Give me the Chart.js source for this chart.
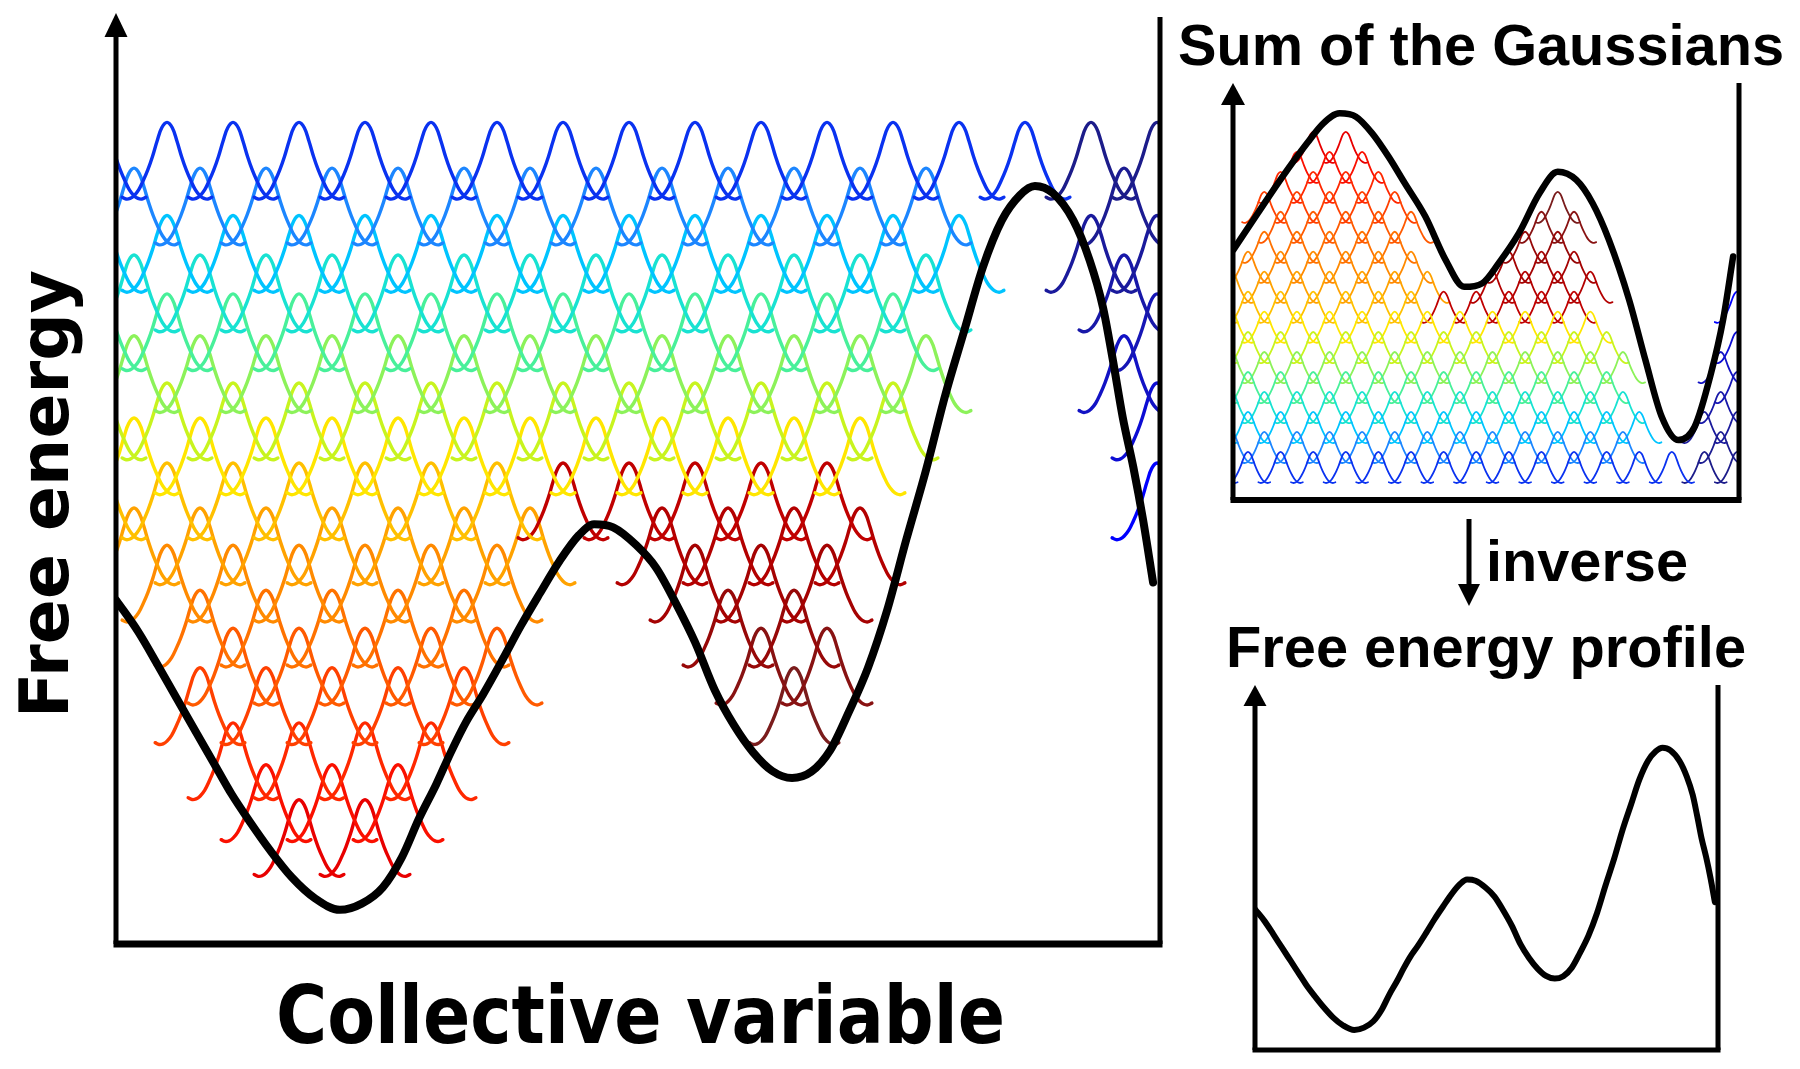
<!DOCTYPE html>
<html><head><meta charset="utf-8">
<script src="https://cdn.jsdelivr.net/npm/chart.js@4.4.1/dist/chart.umd.min.js"></script>
<style>
html,body{margin:0;padding:0;background:#fff;}
#wrap{position:relative;width:1800px;height:1069px;overflow:hidden;background:#fff;}
canvas{position:absolute;left:0;top:0;}
</style></head><body>
<div id="wrap">
<canvas id="cMain" width="1800" height="1069"></canvas>
<canvas id="cSum" width="1800" height="1069"></canvas>
<canvas id="cProfile" width="1800" height="1069"></canvas>
</div>
<script>
// ---------- free-energy profile (collective variable vs free energy) ----------
const cvPoints = [0.23,0.56,0.85,1.15,1.44,1.71,1.98,2.26,2.56,2.89,3.24,3.62,3.95,4.27,4.56,4.82,5.08,5.30,5.53,5.79,6.08,6.36,6.65,6.95,7.24,7.47,7.76,8.11,8.41,8.71,9.00,9.30,9.59,9.88,10.17,10.47,10.76,11.05,11.33,11.62,11.91,12.20,12.50,12.79,13.08,13.36,13.65,13.92,14.15,14.42,14.73,14.98,15.18,15.33,15.48,15.64,15.79,15.94];
const freeEnergy = [4.43,4.03,3.61,3.16,2.73,2.33,1.93,1.57,1.21,0.86,0.59,0.44,0.52,0.73,1.12,1.62,2.06,2.47,2.86,3.22,3.66,4.10,4.52,4.94,5.27,5.41,5.37,5.14,4.85,4.39,3.89,3.27,2.82,2.47,2.23,2.14,2.22,2.50,2.99,3.56,4.30,5.21,6.11,7.07,7.91,8.72,9.33,9.65,9.77,9.68,9.33,8.81,8.21,7.53,6.79,6.15,5.46,4.66];

// ---------- sum of the Gaussians (inset) ----------
const sumCv = [0.55,1.30,2.06,2.81,3.31,3.81,4.31,4.81,5.31,5.81,6.44,7.06,7.63,8.19,8.69,9.31,9.94,10.50,11.07,11.57,12.07,12.69,13.19,13.69,14.20,14.70,15.20,15.57,15.88];
const sumHeight = [6.76,7.75,8.74,9.64,10.18,10.45,10.36,9.91,9.28,8.56,7.66,6.49,5.76,5.86,6.40,7.21,8.29,8.87,8.65,8.02,7.03,5.41,3.78,2.25,1.62,1.98,3.42,4.86,6.58];

// ---------- deposited Gaussians ----------
// shape of one deposited Gaussian as drawn (offset in lattice steps, height fraction, curled tail ends)
const bumpOffset = [-0.68,-0.62,-0.56,-0.50,-0.43,-0.36,-0.29,-0.22,-0.15,-0.08,0,0.08,0.15,0.22,0.29,0.36,0.43,0.50,0.56,0.62,0.68];
const bumpShape  = [0.035,0.012,0.02,0.055,0.13,0.25,0.39,0.56,0.76,0.93,1,0.93,0.76,0.56,0.39,0.25,0.13,0.055,0.02,0.012,0.035];
// peak level of each layer of Gaussians (main panel, free energy units)
const mainLevel = [10.59,10.00,9.39,8.88,8.38,7.84,7.23,6.78,6.20,5.62,5.14,4.56,4.07,3.56,2.85,2.31,1.86];
// peak level of each layer in the "sum of the Gaussians" inset
const sumLevel  = [1.30,1.84,2.38,2.92,3.46,4.00,4.54,5.09,5.63,6.17,6.71,7.25,7.79,8.33,8.87,9.41,9.95];
// height of one Gaussian in each panel
const mainBump = 1.0;
const sumBump = 0.85;
// runs of Gaussians in each layer: layer index, first and last centre (CV), colour group
const segRow   = [0,0, 1,1, 2,2, 3,3, 4,4, 5,5, 6,6, 7, 8,8,8, 9,9, 10,10, 11,11, 12,12, 13,13, 14, 15, 16];
const segFirst = [0,15, 0.5,15.5, 0,15, 0.5,15.5, 0,16, 0.5,15.5, 0,16, 0.5, 0,7,16, 0.5,8.5, 1,9, 1.5,9.5, 2,10, 1.5,10.5, 2, 2.5, 3];
const segLast  = [14,16, 12.5,15.5, 13,16, 12.5,15.5, 12,16, 12.5,15.5, 12,16, 11.5, 6,11,16, 6.5,11.5, 6,11, 5.5,10.5, 6,11, 5.5,10.5, 5, 4.5, 4];
const segGroup = ['main','navy','main','navy','main','navy','main','navy','main','navy','main','navy','main','navy','main','main','deep','navy','main','deep','main','deep','main','deep','main','deep','main','deep','main','main','main'];

// ---------- colours ----------
const palette = {
  main: ['#0a32f0','#1c86ff','#00c4ff','#18e2d2','#48f09a','#8cf25a','#c8f41e','#ffe600','#ffc000','#ffa200','#ff8a00','#ff7200','#ff5a00','#ff4000','#ff2800','#fa1000','#e80000'],
  deep: [null,null,null,null,null,null,null,null,'#c00000','#b30000','#a50202','#970808','#881212','#7a1c1c',null,null,null],
  navy: ['#1c1c8a','#1c1c92','#1a1a9c','#1818a8','#1616b6','#1212c4','#0c0cd4','#0808e8','#0000ff',null,null,null,null,null,null,null,null]
};

function gaussianSets(levels, h, lw) {
  const sets = [];
  for (let s = 0; s < segRow.length; s++) {
    const r = segRow[s];
    const colour = palette[segGroup[s]][r];
    for (let c = segFirst[s]; c <= segLast[s] + 1e-6; c += 1) {
      sets.push({
        data: bumpOffset.map((d, i) => ({x: c + d, y: levels[r] - h + h * bumpShape[i]})),
        borderColor: colour, borderWidth: lw, showLine: true, pointRadius: 0,
        tension: 0.4, fill: false, clip: 0, order: 1,
        borderCapStyle: 'round', borderJoinStyle: 'round'
      });
    }
  }
  return sets;
}
function curveSet(xs, ys, lw) {
  return {data: xs.map((x, i) => ({x, y: ys[i]})), borderColor: '#000', borderWidth: lw,
    showLine: true, pointRadius: 0, cubicInterpolationMode: 'monotone', fill: false,
    borderCapStyle: 'round', borderJoinStyle: 'round', clip: 0, order: 0};
}

const framePlugin = {
  id: 'frame',
  afterDatasetsDraw(chart, _a, o) {
    const {ctx, chartArea: a} = chart;
    ctx.save();
    ctx.strokeStyle = '#000'; ctx.fillStyle = '#000'; ctx.lineCap = 'butt';
    ctx.lineWidth = o.side;
    ctx.beginPath(); ctx.moveTo(a.left, a.bottom); ctx.lineTo(a.left, a.top + o.head - 1); ctx.stroke();
    ctx.beginPath(); ctx.moveTo(a.left, a.top); ctx.lineTo(a.left - o.headW / 2, a.top + o.head);
    ctx.lineTo(a.left + o.headW / 2, a.top + o.head); ctx.closePath(); ctx.fill();
    ctx.beginPath(); ctx.moveTo(a.right, a.bottom); ctx.lineTo(a.right, a.top + o.rightGap); ctx.stroke();
    ctx.lineWidth = o.base;
    ctx.beginPath(); ctx.moveTo(a.left - o.side / 2, a.bottom); ctx.lineTo(a.right + o.side / 2, a.bottom); ctx.stroke();
    ctx.restore();
  }
};

function fitText(ctx, text, x, y, width, font, angle) {
  ctx.save();
  ctx.font = font;
  const w = ctx.measureText(text).width;
  ctx.translate(x, y);
  if (angle) ctx.rotate(angle);
  ctx.scale(width / w, 1);
  ctx.textAlign = 'left'; ctx.textBaseline = 'alphabetic';
  ctx.fillText(text, 0, 0);
  ctx.restore();
}
const labelPlugin = {
  id: 'labels',
  afterDraw(chart) {
    const ctx = chart.ctx;
    ctx.save();
    ctx.fillStyle = '#000';
    fitText(ctx, 'Free energy', 68, 718, 448, 'bold 68px "DejaVu Sans"', -Math.PI / 2);
    fitText(ctx, 'Collective variable', 276, 1043, 729, 'bold 80px "DejaVu Sans"', 0);
    fitText(ctx, 'Sum of the Gaussians', 1178, 65, 606, 'bold 58px "Liberation Sans"', 0);
    fitText(ctx, 'inverse', 1486, 581, 202, 'bold 58px "Liberation Sans"', 0);
    fitText(ctx, 'Free energy profile', 1226, 667, 520, 'bold 58px "Liberation Sans"', 0);
    // "inverse" arrow
    ctx.strokeStyle = '#000'; ctx.lineWidth = 5;
    ctx.beginPath(); ctx.moveTo(1469, 519); ctx.lineTo(1469, 588); ctx.stroke();
    ctx.beginPath(); ctx.moveTo(1469, 606); ctx.lineTo(1458, 584); ctx.lineTo(1480, 584); ctx.closePath(); ctx.fill();
    ctx.restore();
  }
};

function makeChart(id, datasets, xr, yr, pad, frame, extra) {
  return new Chart(document.getElementById(id), {
    type: 'scatter',
    data: {datasets},
    options: {
      responsive: false, maintainAspectRatio: false, animation: false, events: [],
      devicePixelRatio: 1,
      layout: {padding: pad},
      scales: {
        x: {type: 'linear', min: xr[0], max: xr[1], display: false},
        y: {type: 'linear', min: yr[0], max: yr[1], display: false}
      },
      plugins: {legend: {display: false}, tooltip: {enabled: false}, frame}
    },
    plugins: [framePlugin].concat(extra || [])
  });
}

// main panel
makeChart('cMain',
  [curveSet(cvPoints, freeEnergy, 8)].concat(gaussianSets(mainLevel, mainBump, 3.4)),
  [0.227, 16.045], [0, 12],
  {left: 116, top: 13, right: 640, bottom: 125},
  {side: 5, base: 7, head: 24, headW: 23, rightGap: 4},
  [labelPlugin]);

// sum of the Gaussians inset
makeChart('cSum',
  [curveSet(sumCv, sumHeight, 6.5)].concat(gaussianSets(sumLevel, sumBump, 1.8)),
  [0.54, 16.06], [0, 11.27],
  {left: 1233, top: 83, right: 61, bottom: 569},
  {side: 5, base: 6, head: 22, headW: 24, rightGap: 0});

// recovered free energy profile inset
makeChart('cProfile',
  [curveSet(cvPoints, freeEnergy, 6)],
  [0.227, 16.045], [-0.22, 11.84],
  {left: 1255, top: 685, right: 82, bottom: 19},
  {side: 5, base: 5, head: 21, headW: 23, rightGap: 0});
</script>
</body></html>
